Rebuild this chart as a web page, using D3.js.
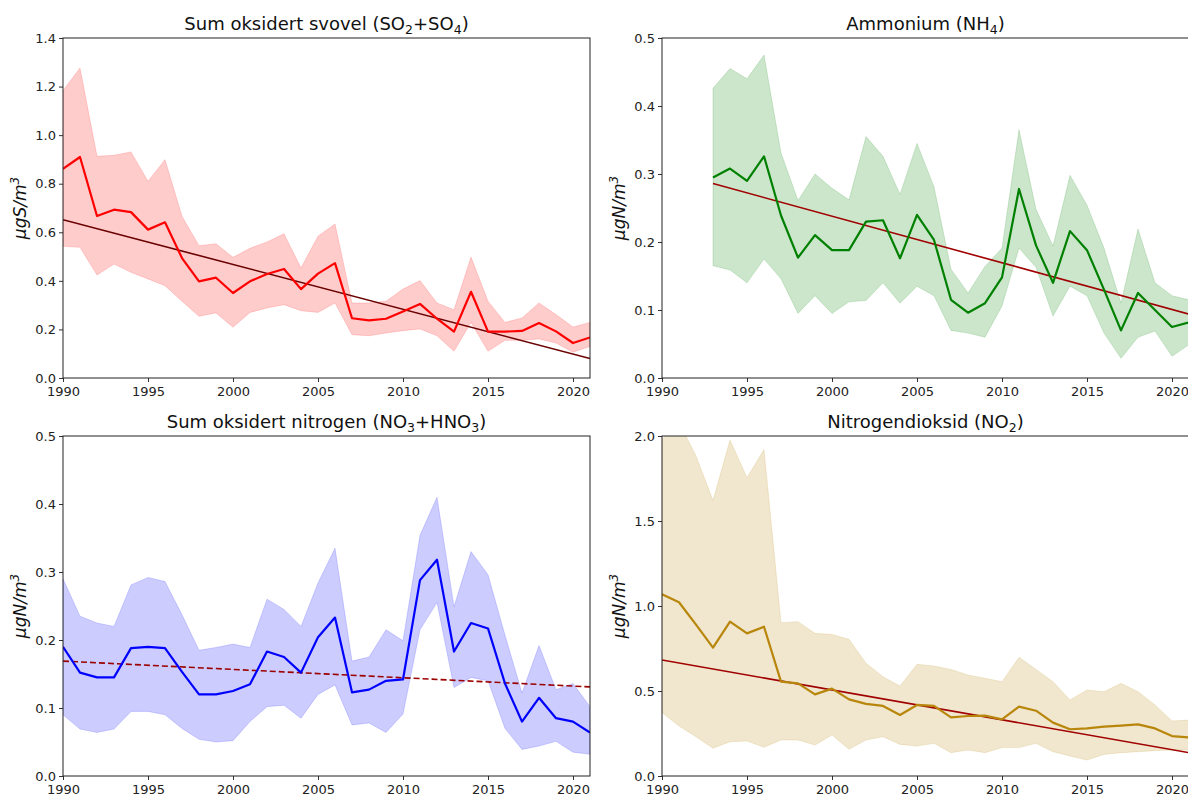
<!DOCTYPE html>
<html>
<head>
<meta charset="utf-8">
<script src="https://cdn.jsdelivr.net/npm/d3@7"></script>
<style>
  body { margin: 0; background: #fff; }
  svg { display: block; font-family: 'DejaVu Sans', sans-serif; }
</style>
</head>
<body>
<div id="chart"></div>
<script>
/* global d3 */

// Years on the x axis
const years = [1990, 1991, 1992, 1993, 1994, 1995, 1996, 1997, 1998, 1999, 2000,
  2001, 2002, 2003, 2004, 2005, 2006, 2007, 2008, 2009, 2010,
  2011, 2012, 2013, 2014, 2015, 2016, 2017, 2018, 2019, 2020, 2021]
const nh4Years = years.slice(3)
const xTicks = [1990, 1995, 2000, 2005, 2010, 2015, 2020]

// Sum oksidert svovel (SO2+SO4)
const soMean = [0.861, 0.910, 0.667, 0.693, 0.683, 0.611, 0.641, 0.494, 0.398, 0.413, 0.350,
  0.398, 0.428, 0.449, 0.366, 0.430, 0.473, 0.246, 0.237, 0.244, 0.274,
  0.305, 0.244, 0.191, 0.355, 0.191, 0.191, 0.194, 0.226, 0.192, 0.144, 0.167]
const soUpper = [1.184, 1.276, 0.913, 0.917, 0.931, 0.810, 0.899, 0.666, 0.545, 0.553, 0.497,
  0.534, 0.560, 0.594, 0.453, 0.584, 0.634, 0.309, 0.309, 0.316, 0.366,
  0.401, 0.309, 0.281, 0.498, 0.316, 0.229, 0.247, 0.309, 0.261, 0.210, 0.229]
const soLower = [0.542, 0.538, 0.424, 0.469, 0.435, 0.408, 0.380, 0.316, 0.254, 0.268, 0.209,
  0.270, 0.288, 0.302, 0.277, 0.270, 0.309, 0.178, 0.174, 0.185, 0.195,
  0.202, 0.174, 0.110, 0.229, 0.110, 0.155, 0.155, 0.161, 0.144, 0.106, 0.130]
const soTrend = [0.652, 0.080]
const soTicks = [0, 0.2, 0.4, 0.6, 0.8, 1.0, 1.2, 1.4]

// Ammonium (NH4), from 1993
const nh4Mean = [0.295, 0.308, 0.290, 0.326, 0.239, 0.177, 0.210, 0.188,
  0.188, 0.230, 0.232, 0.176, 0.240, 0.203, 0.115, 0.096, 0.110, 0.148,
  0.278, 0.195, 0.140, 0.216, 0.188, 0.130, 0.070, 0.125, 0.100, 0.075, 0.082]
const nh4Upper = [0.426, 0.455, 0.440, 0.475, 0.331, 0.261, 0.300, 0.279,
  0.262, 0.355, 0.326, 0.270, 0.345, 0.281, 0.160, 0.125, 0.164, 0.191,
  0.365, 0.248, 0.194, 0.298, 0.254, 0.191, 0.110, 0.219, 0.140, 0.121, 0.115]
const nh4Lower = [0.165, 0.159, 0.140, 0.175, 0.146, 0.095, 0.121, 0.095,
  0.112, 0.114, 0.140, 0.110, 0.135, 0.121, 0.070, 0.066, 0.060, 0.106,
  0.191, 0.163, 0.091, 0.135, 0.121, 0.066, 0.029, 0.060, 0.069, 0.032, 0.049]
const nh4Trend = [0.286, 0.094]
const nh4Ticks = [0, 0.1, 0.2, 0.3, 0.4, 0.5]

// Sum oksidert nitrogen (NO3+HNO3)
const no3Mean = [0.190, 0.152, 0.145, 0.145, 0.188, 0.190, 0.188, 0.153, 0.120, 0.120, 0.125,
  0.135, 0.183, 0.175, 0.152, 0.204, 0.233, 0.123, 0.127, 0.140, 0.142,
  0.288, 0.318, 0.183, 0.225, 0.217, 0.136, 0.080, 0.115, 0.085, 0.080, 0.064]
const no3Upper = [0.290, 0.235, 0.225, 0.220, 0.281, 0.292, 0.286, 0.237, 0.185, 0.189, 0.194,
  0.189, 0.260, 0.245, 0.220, 0.284, 0.335, 0.169, 0.175, 0.215, 0.199,
  0.354, 0.410, 0.249, 0.330, 0.296, 0.207, 0.122, 0.192, 0.127, 0.136, 0.102]
const no3Lower = [0.090, 0.069, 0.064, 0.069, 0.095, 0.095, 0.090, 0.070, 0.054, 0.050, 0.052,
  0.080, 0.102, 0.104, 0.085, 0.120, 0.134, 0.075, 0.078, 0.064, 0.091,
  0.215, 0.255, 0.130, 0.145, 0.140, 0.070, 0.039, 0.044, 0.051, 0.035, 0.032]
const no3Trend = [0.169, 0.131]
const no3Ticks = [0, 0.1, 0.2, 0.3, 0.4, 0.5]

// Nitrogendioksid (NO2)
const no2Mean = [1.069, 1.022, 0.890, 0.755, 0.908, 0.839, 0.878, 0.555, 0.545, 0.480, 0.514,
  0.451, 0.424, 0.412, 0.359, 0.418, 0.412, 0.345, 0.353, 0.355, 0.333,
  0.408, 0.384, 0.314, 0.275, 0.280, 0.290, 0.296, 0.304, 0.280, 0.235, 0.227]
const no2Upper = [1.980, 2.080, 1.882, 1.620, 1.976, 1.755, 1.920, 0.902, 0.908, 0.839, 0.833,
  0.804, 0.663, 0.584, 0.529, 0.657, 0.647, 0.627, 0.594, 0.575, 0.555,
  0.698, 0.627, 0.555, 0.447, 0.506, 0.496, 0.545, 0.496, 0.418, 0.324, 0.329]
const no2Lower = [0.373, 0.294, 0.231, 0.163, 0.202, 0.206, 0.169, 0.212, 0.212, 0.182, 0.241,
  0.157, 0.212, 0.231, 0.186, 0.176, 0.192, 0.137, 0.153, 0.137, 0.167,
  0.167, 0.192, 0.143, 0.118, 0.094, 0.127, 0.137, 0.143, 0.149, 0.153, 0.153]
const no2Trend = [0.682, 0.137]
const no2Ticks = [0, 0.5, 1.0, 1.5, 2.0]

// Our canvas
const width = 1188,
  height = 796,
  plotW = 527,
  plotH = 340

let svg = d3.select('#chart')
  .append('svg')
  .attr('width', width)
  .attr('height', height)

// one entry per subplot
const panels = [
  { left: 63, top: 38, title: ['Sum oksidert svovel (SO', '2', '+SO', '4', ')'], unit: 'S',
    x: years, mean: soMean, upper: soUpper, lower: soLower, trend: soTrend, ticks: soTicks,
    max: 1.4, line: 'red', fill: 'red', trendColor: '#6b0000', dashed: false },
  { left: 662, top: 38, title: ['Ammonium (NH', '4', ')'], unit: 'N',
    x: nh4Years, mean: nh4Mean, upper: nh4Upper, lower: nh4Lower, trend: nh4Trend, ticks: nh4Ticks,
    max: 0.5, line: 'green', fill: 'green', trendColor: '#a00000', dashed: false },
  { left: 63, top: 436, title: ['Sum oksidert nitrogen (NO', '3', '+HNO', '3', ')'], unit: 'N',
    x: years, mean: no3Mean, upper: no3Upper, lower: no3Lower, trend: no3Trend, ticks: no3Ticks,
    max: 0.5, line: 'blue', fill: 'blue', trendColor: '#9b0000', dashed: true },
  { left: 662, top: 436, title: ['Nitrogendioksid (NO', '2', ')'], unit: 'N',
    x: years, mean: no2Mean, upper: no2Upper, lower: no2Lower, trend: no2Trend, ticks: no2Ticks,
    max: 2.0, line: 'darkgoldenrod', fill: 'darkgoldenrod', trendColor: '#a00000', dashed: false }
]

let styleAxis = (a) => {
  a.select('.domain').remove()
  a.selectAll('line').attr('stroke', '#333')
  a.selectAll('text')
    .attr('font-family', 'DejaVu Sans, sans-serif')
    .attr('font-size', 13)
    .attr('fill', '#222')
}

let drawPanel = (p, i) => {
  let g = svg.append('g')
    .attr('transform', `translate(${ p.left }, ${ p.top })`)

  let xScale = d3.scaleLinear()
    .domain([1990, 2021])
    .range([0, plotW])

  let yScale = d3.scaleLinear()
    .domain([0, p.max])
    .range([plotH, 0])

  g.append('clipPath')
    .attr('id', 'clip' + i)
    .append('rect')
    .attr('width', plotW)
    .attr('height', plotH)

  let plot = g.append('g').attr('clip-path', `url(#clip${ i })`)

  let rows = p.x.map((yr, j) => ({ yr: yr, m: p.mean[j], hi: p.upper[j], lo: p.lower[j] }))

  // spread band
  plot.append('path')
    .datum(rows)
    .attr('d', d3.area()
      .x(d => xScale(d.yr))
      .y0(d => yScale(d.lo))
      .y1(d => yScale(d.hi)))
    .attr('fill', p.fill)
    .attr('fill-opacity', 0.2)
    .attr('stroke', p.fill)
    .attr('stroke-opacity', 0.15)

  // trend line
  let tx = [p.x[0], p.x[p.x.length - 1]]
  plot.append('path')
    .datum(tx.map((yr, j) => [yr, p.trend[j]]))
    .attr('d', d3.line()
      .x(d => xScale(d[0]))
      .y(d => yScale(d[1])))
    .attr('fill', 'none')
    .attr('stroke', p.trendColor)
    .attr('stroke-width', 1.6)
    .attr('stroke-dasharray', p.dashed ? '6,3' : null)

  // mean line
  plot.append('path')
    .datum(rows)
    .attr('d', d3.line()
      .x(d => xScale(d.yr))
      .y(d => yScale(d.m)))
    .attr('fill', 'none')
    .attr('stroke', p.line)
    .attr('stroke-width', 2.2)
    .attr('stroke-linejoin', 'round')

  // axes
  g.append('g')
    .attr('transform', `translate(0, ${ plotH })`)
    .call(d3.axisBottom(xScale)
      .tickValues(xTicks)
      .tickSize(4)
      .tickPadding(5)
      .tickFormat(d3.format('d')))
    .call(styleAxis)

  g.append('g')
    .call(d3.axisLeft(yScale)
      .tickValues(p.ticks)
      .tickSize(4)
      .tickPadding(3)
      .tickFormat(d3.format('.1f')))
    .call(styleAxis)

  // frame
  g.append('rect')
    .attr('width', plotW)
    .attr('height', plotH)
    .attr('fill', 'none')
    .attr('stroke', '#222')
    .attr('stroke-width', 1)

  // title with subscripts
  let title = g.append('text')
    .attr('x', plotW / 2)
    .attr('y', -8)
    .attr('text-anchor', 'middle')
    .attr('font-size', 18)
    .attr('fill', '#111')
  p.title.forEach((part, k) => {
    let sub = k % 2 === 1
    title.append('tspan')
      .attr('font-size', sub ? 12.5 : 18)
      .attr('dy', sub ? 4 : (k > 0 ? -4 : 0))
      .text(part)
  })

  // y label
  let ylab = g.append('text')
    .attr('transform', `translate(-37, ${ plotH / 2 }) rotate(-90)`)
    .attr('text-anchor', 'middle')
    .attr('font-size', 17)
    .attr('font-style', 'italic')
    .attr('fill', '#111')
  ylab.append('tspan').text(`μg${ p.unit }/m`)
  ylab.append('tspan').attr('font-size', 12).attr('dy', -7).text('3')
}

panels.forEach(drawPanel)
</script>
</body>
</html>
